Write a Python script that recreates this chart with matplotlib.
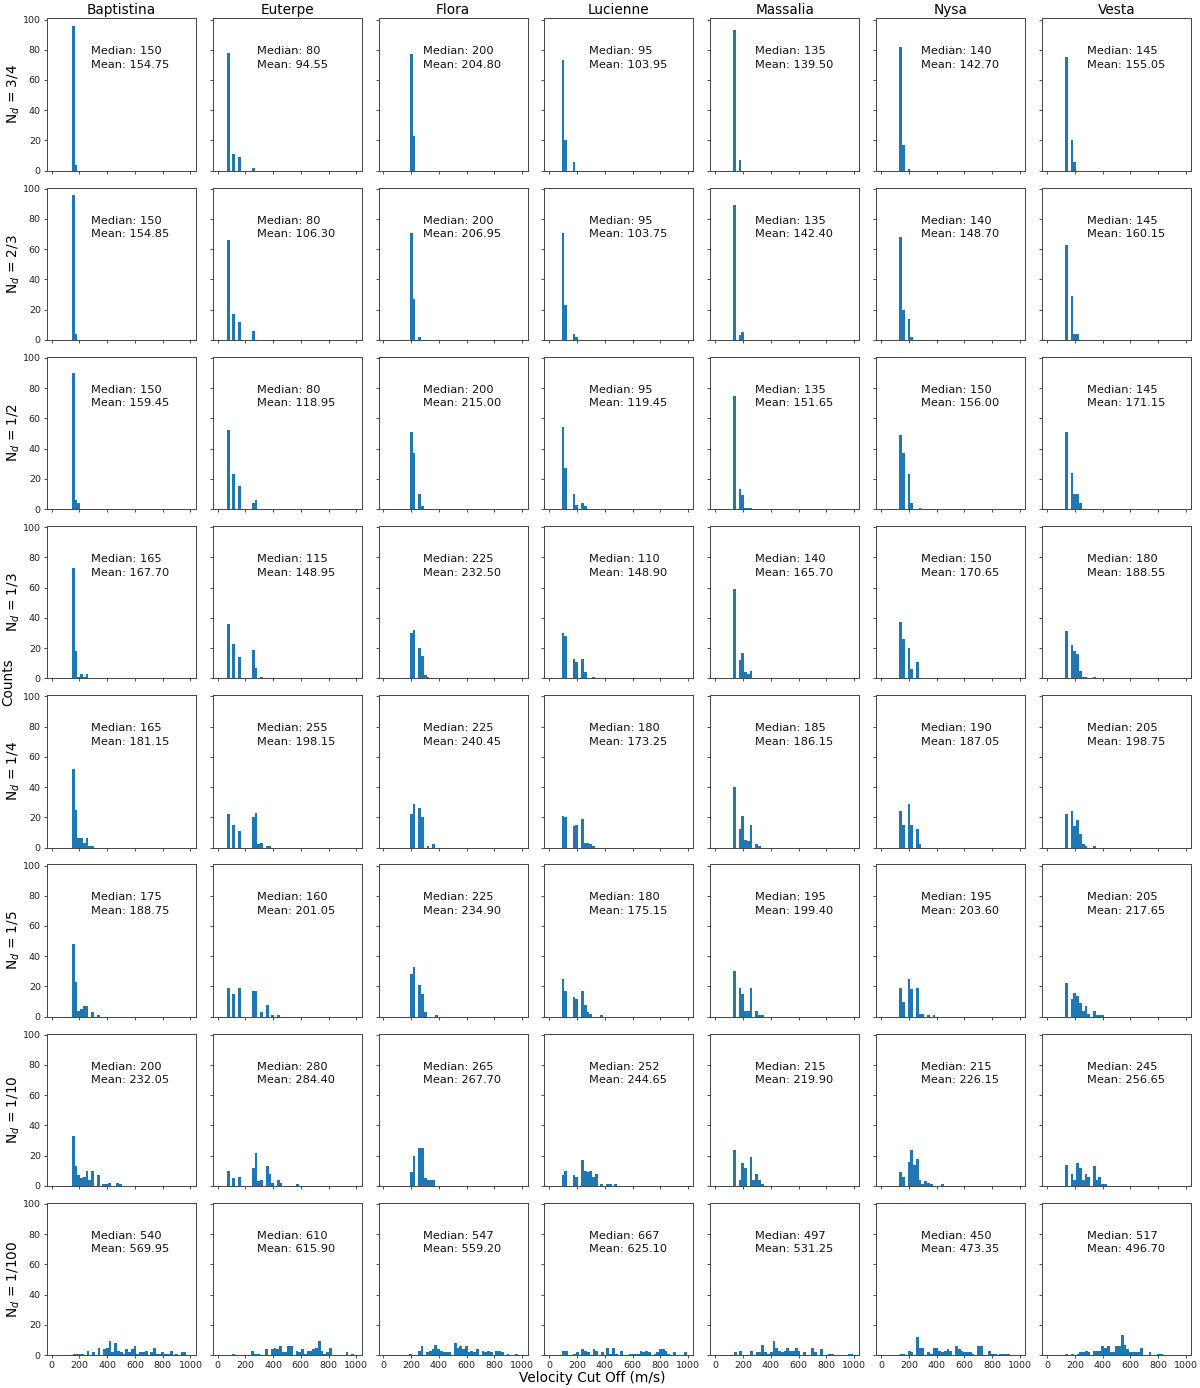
import numpy as np
import matplotlib
matplotlib.use("Agg")
import matplotlib.pyplot as plt

# ---------------- data ----------------
ASTEROIDS = ["Baptistina", "Euterpe", "Flora", "Lucienne", "Massalia", "Nysa", "Vesta"]
ROW_LABELS = ["3/4", "2/3", "1/2", "1/3", "1/4", "1/5", "1/10", "1/100"]
BIN_WIDTH = 20
X_TICKS = [0, 200, 400, 600, 800, 1000]
Y_TICKS = [0, 20, 40, 60, 80, 100]

MEDIANS = [
    [150, 80, 200, 95, 135, 140, 145],
    [150, 80, 200, 95, 135, 140, 145],
    [150, 80, 200, 95, 135, 150, 145],
    [165, 115, 225, 110, 140, 150, 180],
    [165, 255, 225, 180, 185, 190, 205],
    [175, 160, 225, 180, 195, 195, 205],
    [200, 280, 265, 252, 215, 215, 245],
    [540, 610, 547, 667, 497, 450, 517],
]
MEANS = [
    [154.75, 94.55, 204.80, 103.95, 139.50, 142.70, 155.05],
    [154.85, 106.30, 206.95, 103.75, 142.40, 148.70, 160.15],
    [159.45, 118.95, 215.00, 119.45, 151.65, 156.00, 171.15],
    [167.70, 148.95, 232.50, 148.90, 165.70, 170.65, 188.55],
    [181.15, 198.15, 240.45, 173.25, 186.15, 187.05, 198.75],
    [188.75, 201.05, 234.90, 175.15, 199.40, 203.60, 217.65],
    [232.05, 284.40, 267.70, 244.65, 219.90, 226.15, 256.65],
    [569.95, 615.90, 559.20, 625.10, 531.25, 473.35, 496.70],
]

# first bin edge of each histogram (m/s), one row per N_d
BIN_STARTS = [
    [145, 67, 190, 88, 128, 130, 130],
    [145, 67, 190, 88, 128, 130, 130],
    [145, 67, 190, 88, 128, 130, 130],
    [145, 67, 190, 88, 128, 130, 130],
    [145, 67, 190, 88, 128, 130, 130],
    [145, 67, 190, 88, 128, 130, 130],
    [145, 67, 190, 88, 128, 130, 130],
    [151, 103, 187, 91, 133, 132, 132],
]

# bin counts (bins of BIN_WIDTH m/s), per asteroid
COUNTS_3_4 = [
    [96, 4],
    [78, 0, 11, 0, 9, 0, 0, 0, 0, 2],
    [77, 23],
    [73, 20, 0, 0, 6],
    [93, 0, 7],
    [82, 17, 0, 1],
    [75, 0, 20, 6],
]
COUNTS_2_3 = [
    [96, 4],
    [66, 0, 17, 0, 12, 0, 0, 0, 0, 6],
    [71, 27, 0, 2],
    [71, 23, 0, 0, 4, 2],
    [89, 0, 3, 5],
    [68, 20, 0, 14, 2],
    [63, 0, 29, 4, 4],
]
COUNTS_1_2 = [
    [90, 6, 4],
    [52, 0, 23, 0, 15, 0, 0, 0, 0, 4, 6],
    [51, 37, 0, 10, 2],
    [54, 27, 0, 0, 10, 3, 0, 4, 2],
    [75, 0, 13, 9, 1, 1, 1],
    [49, 37, 0, 23, 4, 0, 0, 1],
    [51, 0, 24, 10, 10, 4],
]
COUNTS_1_3 = [
    [73, 18, 1, 3, 1, 3],
    [36, 0, 23, 0, 14, 0, 0, 0, 0, 19, 7, 0, 1],
    [30, 32, 0, 20, 15, 2, 1],
    [30, 28, 0, 0, 13, 11, 0, 13, 4, 0, 0, 1],
    [59, 0, 12, 17, 4, 3, 5],
    [37, 26, 0, 20, 6, 0, 11],
    [31, 0, 22, 18, 16, 5, 1, 1, 0, 0, 1],
]
COUNTS_1_4 = [
    [52, 25, 6, 6, 3, 6, 1, 1],
    [22, 0, 15, 0, 11, 0, 0, 0, 0, 20, 23, 2, 3, 0, 1, 1],
    [22, 29, 0, 26, 20, 0, 1, 0, 2],
    [21, 20, 0, 0, 14, 15, 0, 19, 3, 3, 2, 1],
    [40, 0, 12, 21, 5, 4, 15, 0, 2, 1],
    [24, 15, 0, 29, 15, 0, 12, 2],
    [22, 0, 24, 14, 18, 9, 2, 1, 0, 0, 1],
]
COUNTS_1_5 = [
    [48, 23, 4, 5, 7, 7, 0, 3, 0, 1],
    [19, 0, 15, 0, 19, 0, 0, 0, 0, 17, 17, 0, 3, 0, 8, 0, 1, 0, 1],
    [28, 33, 0, 21, 15, 3, 0, 0, 0, 1],
    [25, 17, 0, 0, 13, 12, 0, 17, 8, 3, 2, 0, 0, 0, 1],
    [30, 0, 19, 15, 4, 4, 19, 0, 4, 1, 1],
    [19, 10, 0, 25, 18, 0, 19, 2, 2, 0, 1, 0, 1],
    [22, 0, 12, 16, 14, 9, 4, 7, 2, 0, 4, 1, 1, 1],
]
COUNTS_1_10 = [
    [33, 13, 7, 5, 6, 10, 4, 10, 0, 7, 0, 1, 1, 2, 0, 0, 2, 1],
    [10, 0, 5, 0, 6, 0, 0, 0, 0, 12, 22, 3, 4, 0, 13, 8, 2, 0, 4, 2, 0, 0, 0, 0, 0, 1],
    [9, 20, 0, 25, 25, 5, 4, 4, 4],
    [7, 10, 0, 0, 7, 6, 0, 17, 10, 9, 10, 6, 8, 0, 1, 0, 1, 1, 0, 1],
    [24, 0, 4, 15, 12, 0, 19, 4, 8, 4, 1],
    [9, 6, 0, 16, 24, 14, 18, 4, 1, 3, 2, 1, 0, 0, 0, 1],
    [14, 0, 8, 4, 15, 12, 4, 8, 6, 0, 13, 4, 6, 1, 1],
]
COUNTS_1_100 = [
    [1, 1, 1, 1, 0, 3, 0, 2, 0, 5, 0, 4, 5, 9, 2, 8, 3, 2, 1, 4, 2, 4, 6, 1,
     2, 2, 3, 0, 2, 5, 1, 1, 2, 1, 1, 3, 0, 1, 0, 2, 2],
    [1, 0, 0, 0, 0, 0, 0, 3, 1, 1, 0, 0, 4, 0, 4, 5, 4, 6, 2, 2, 6, 6, 0, 3,
     2, 4, 1, 3, 3, 4, 5, 9, 3, 1, 2, 5, 0, 0, 0, 0, 0, 2, 0, 1],
    [1, 0, 0, 3, 6, 0, 2, 3, 4, 7, 4, 3, 2, 2, 2, 0, 8, 5, 6, 4, 6, 2, 3, 2,
     4, 0, 3, 2, 3, 2, 0, 3, 3, 2, 0, 1, 0, 0, 1],
    [3, 3, 0, 0, 1, 2, 0, 4, 3, 2, 0, 4, 3, 0, 2, 0, 5, 1, 5, 1, 0, 3, 0, 0,
     1, 1, 1, 1, 3, 2, 3, 2, 0, 1, 2, 4, 4, 3, 1, 0, 2, 0, 0, 0, 2],
    [2, 0, 3, 0, 0, 0, 3, 0, 2, 2, 7, 2, 1, 2, 9, 5, 3, 2, 3, 5, 3, 3, 5, 3,
     0, 2, 0, 0, 5, 2, 0, 4, 0, 0, 1, 1, 0, 0, 0, 0, 0, 1, 1],
    [1, 1, 0, 3, 2, 0, 12, 5, 5, 0, 2, 1, 5, 5, 3, 2, 3, 4, 3, 0, 6, 4, 3, 2,
     2, 2, 1, 0, 6, 6, 0, 0, 3, 1, 1, 0, 1, 1, 1, 1],
    [1, 0, 1, 0, 1, 2, 2, 3, 2, 0, 3, 3, 3, 6, 5, 6, 2, 2, 6, 6, 13, 7, 4, 2,
     2, 2, 2, 5, 0, 0, 2, 0, 0, 1, 1],
]
ALL_COUNTS = [COUNTS_3_4, COUNTS_2_3, COUNTS_1_2, COUNTS_1_3,
              COUNTS_1_4, COUNTS_1_5, COUNTS_1_10, COUNTS_1_100]

# ---------------- figure ----------------
W, H = 1200, 1388
fig = plt.figure(figsize=(W / 100, H / 100), dpi=100)
BAR_COLOR = "#1f77b4"

ax_left0, ax_dx, ax_w = 46.7, 165.9, 149.0
ax_top0, ax_dy, ax_h = 18.3, 169.2, 152.4

for r, row_counts in enumerate(ALL_COUNTS):
    for c, counts in enumerate(row_counts):
        left = ax_left0 + c * ax_dx
        top = ax_top0 + r * ax_dy
        ax = fig.add_axes([left / W, 1 - (top + ax_h) / H, ax_w / W, ax_h / H])
        start = BIN_STARTS[r][c]
        counts = np.asarray(counts, dtype=float)
        edges = start + BIN_WIDTH * np.arange(len(counts) + 1)
        centers = 0.5 * (edges[:-1] + edges[1:])
        ax.hist(centers, bins=edges, weights=counts, color=BAR_COLOR)
        ax.set_xlim(-36, 1038)
        ax.set_ylim(0, 100.8)
        ax.set_xticks(X_TICKS)
        ax.set_yticks(Y_TICKS)
        ax.tick_params(labelsize=6.8, length=2.4, width=0.6, pad=1.8,
                       colors="#333333", labelcolor="#222222")
        for sp in ax.spines.values():
            sp.set_linewidth(0.7)
            sp.set_color("#444444")
        if r != len(ALL_COUNTS) - 1:
            ax.set_xticklabels([])
        if c != 0:
            ax.set_yticklabels([])
        else:
            ax.set_ylabel(r"N$_d$ = " + ROW_LABELS[r], fontsize=9.8)
            ax.yaxis.set_label_coords(-0.165, 0.5)
        if r == 0:
            ax.set_title(ASTEROIDS[c], fontsize=9.8, pad=3)
        ax.text(0.30, 0.815, f"Median: {MEDIANS[r][c]}\nMean: {MEANS[r][c]:.2f}",
                transform=ax.transAxes, va="top", ha="left", fontsize=8.2,
                linespacing=1.45, color="#111111")

fig.text(8 / W, 1 - 682 / H, "Counts", rotation=90, va="center", ha="center",
         fontsize=9.8)
fig.text(592 / W, 1 - 1378 / H, "Velocity Cut Off (m/s)", va="center",
         ha="center", fontsize=9.8)

fig.savefig("out.png", dpi=100)
